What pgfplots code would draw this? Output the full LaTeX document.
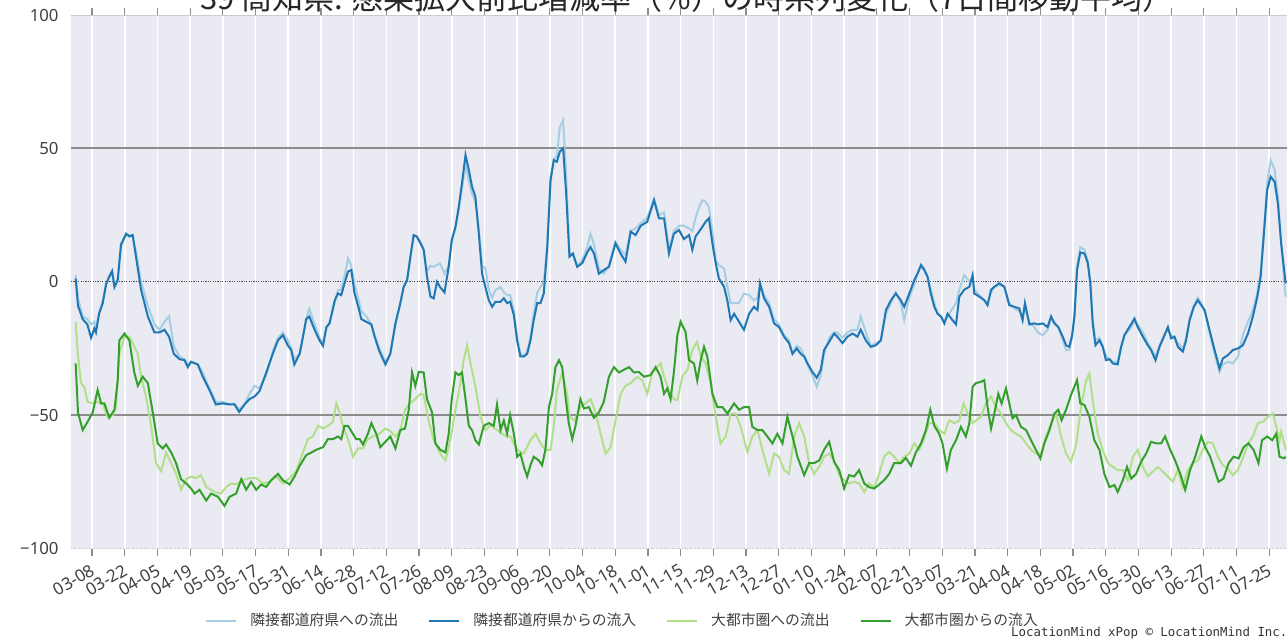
\documentclass[border=0pt]{standalone}
\usepackage{fontspec}
\setmainfont{Noto Sans CJK JP}
\newfontfamily\monofont{DejaVu Sans Mono}
\newfontfamily\tickfont{Noto Sans}
\usepackage{pgfplots}
\pgfplotsset{compat=1.18}
\definecolor{lb}{HTML}{A6CEE3}
\definecolor{db}{HTML}{1F78B4}
\definecolor{lg}{HTML}{B2DF8A}
\definecolor{dg}{HTML}{33A02C}
\definecolor{bgc}{HTML}{EAEAF2}
\begin{document}
\begin{tikzpicture}
\begin{axis}[
  at={(0,0)}, anchor=south west,
  scale only axis, width=608pt, height=266.75pt,
  xmin=-2, xmax=518.6, ymin=-100, ymax=100,
  axis background/.style={fill=bgc},
  axis line style={draw=none},
  xtick={7,21,...,511},
  xticklabels={03-08,03-22,04-05,04-19,05-03,05-17,05-31,06-14,06-28,07-12,07-26,08-09,08-23,09-06,09-20,10-04,10-18,11-01,11-15,11-29,12-13,12-27,01-10,01-24,02-07,02-21,03-07,03-21,04-04,04-18,05-02,05-16,05-30,06-13,06-27,07-11,07-25},
  ytick={-100,-50,0,50,100},
  yticklabels={−100,−50,0,50,100},
  tick align=outside,
  major tick length=3.5pt,
  xtick style={color=black!45, line width=0.6pt},
  ytick style={draw=none},
  xmajorgrids, major grid style={white, line width=0.8pt},
  tick label style={font=\tickfont\fontsize{8.4}{10}\selectfont, text=black!75},
  xticklabel shift=3.75pt,
  xticklabel style={font=\tickfont\fontsize{8.5}{10}\selectfont, xshift=-1pt, rotate=30, anchor=north east, inner sep=0pt},
  yticklabel style={inner sep=0pt, xshift=-2.5pt},
  legend columns=4,
  legend style={draw=none, fill=none, at={(0.1102,-0.1359)}, anchor=west, inner sep=0pt,
    font=\fontsize{7.4}{9}\selectfont, text=black!75,
    /tikz/every odd column/.append style={column sep=6.5pt},
    /tikz/every even column/.append style={column sep=15pt},
    nodes={inner sep=0pt}},
  legend image code/.code={\draw[#1] (0pt,0pt) -- (15pt,0pt);},
  every axis plot/.append style={line width=1pt, mark=none},
]
\draw[color=black!20, line width=0.8pt] (axis cs:-2,100) -- (axis cs:518.6,100);
\draw[color=black!25, line width=0.6pt, dash pattern=on 0.5pt off 0.8pt] (axis cs:-2,-100) -- (axis cs:518.6,-100);
\draw[color=black!45, line width=0.9pt] (axis cs:-2,50) -- (axis cs:518.6,50);
\draw[color=black!45, line width=0.9pt] (axis cs:-2,-50) -- (axis cs:518.6,-50);
\draw[color=black!70, line width=0.5pt, dash pattern=on 0.6pt off 0.6pt] (axis cs:-2,0) -- (axis cs:518.6,0);

\addplot[lb] table {
0 2.5
1 -6
3 -13
5 -14
6.6 -16
8 -15
8.7 -17
10 -12
11.6 -7
13 -1
14.4 2
15.6 3
16.6 -1
18 1
19.4 13
21.6 18
23 17.5
24.4 17
25.9 11
28 0
30.9 -9
33.7 -16
35.9 -18
38 -15
40 -13
42 -24
44.4 -28
46.6 -29
48 -31
49.4 -30
52.3 -31
54.4 -34
57.3 -40
60 -45
63 -45
65.9 -46
68 -45.6
70 -48
72.3 -46
74.4 -42
76.6 -39
78.7 -40
81.6 -35
84.4 -26
86.6 -21
88.7 -19
90.9 -22
92.3 -25
93.6 -29
95.9 -27
97.3 -21
98.7 -14
100 -10
102.3 -16
104.4 -21
105.9 -23
107.3 -18
108.7 -15
110.9 -8
112.3 -3
113.7 -3
115.1 2
116.6 8.8
118 6
119.4 -1
120.9 -6
122.3 -11
124.4 -13
126.6 -16
128 -20
130 -25
132.6 -30
134.7 -27
136.9 -16
139 -8
140.4 -2
141.9 1
143.3 9
144.7 17
146 17
147.6 15
149 12
150.4 4
151.9 6
153.3 5.6
156 6.9
157.9 3
159.7 6
161 15
162.6 20
164 27
165.4 35
166.9 44
168.3 38
169.7 33
171.1 30
172.6 20
174 6
175.4 5
176.9 -3
178.3 -6
179.7 -3
181.9 -2
183.3 -4
184.7 -5
186 -5
187.6 -11
189 -21
190.4 -27
191.9 -28
193.3 -26
194.7 -21
196.1 -12
197.6 -4
199 -2
200.4 0
201.9 14
203.3 39
204.7 46
206 47
207.3 58
208.7 60.6
210 40
211.4 11
212.9 10
214.7 6
216.9 8
219 13
220.4 18
221.9 14
224 5
226.1 3
228.3 6
231.1 15
233.3 12
235.4 10
237.6 19
239.7 20
241.9 22
244.7 24
247.6 31
249.7 25
251.9 26
254 12
256.1 19
258.3 21
260.4 21
262.6 20
264 19
265.4 24
266.9 28
268.3 30.6
269.7 30
271.1 28
272.6 19
274 8
275.4 6.2
277.6 5
279 -2
280.4 -8
281.9 -8
284 -8
286.1 -4.4
288.3 -5
290.4 -7
291.9 -6
293 -1
294.7 -5
296.9 -8
299 -14
301.1 -16
303.3 -20
305.4 -22
306.9 -27
308.7 -24
310.4 -25
311.9 -28
313.3 -31
315.4 -35
317.3 -39.4
319 -35
320.4 -27
322.6 -21
324.7 -19
326.1 -19
328.3 -21
330.4 -19
332.6 -18
334.7 -18
336.1 -13
338.3 -19
340.4 -24
342.6 -23
344.7 -22
346.9 -12
349 -8
351.1 -4
353.3 -8
354.7 -14.4
356.9 -6
359 -1
360.4 3
361.9 6.5
363.3 5
364.7 2
366.1 -3
367.6 -8
369 -12
370.4 -13
371.9 -15
373.3 -13
375.4 -10
376.9 -8
378.3 -3
380.4 2.5
382.6 0
384 1
384.7 -3
386.9 -5
389 -7
390.4 -8
391.9 -4
393.3 -2
395.4 -1
397.6 -2
399.7 -8
401.9 -10
404 -11
405.4 -13
406.4 -10
408.3 -15
410.4 -17
411.9 -19
414 -20
416.1 -18
417.6 -14
419 -15
420.7 -17
422.6 -22
424 -25.6
425.4 -25.6
426.6 -21
427.6 -12
428.7 6
430.1 13
431.9 12
433.3 8
434.4 0
435.4 -14
436.6 -22
438.3 -21
439.7 -24
441.1 -28
442.6 -29
444 -30
446.1 -30
447.6 -24
449 -20
451.1 -18
453.3 -15
454.7 -16
456.9 -19
459 -23
460.4 -25
462.3 -28
464 -24
465.9 -20
467.6 -18
469 -20
470.4 -21
471.9 -23
474 -25
475.4 -21
476.9 -14
478.7 -9
480.4 -6
481.9 -8
483.3 -11
485.4 -19
487.6 -27
489.7 -33.8
491.1 -31
493.3 -30
495.4 -30.6
497.6 -28
499.7 -20
501.9 -15
504 -10.6
505.9 -4
507.3 3
508.7 19
510.1 37
511.6 45.6
513.3 42
514.7 32
516.1 14
518 -5.6
};
\addlegendentry{隣接都道府県への流出}

\addplot[db] table {
0 1.2
1 -9
3 -14
5 -16
6.6 -21
8 -17.5
8.7 -19
10 -12
11.6 -8
13 -1
14.4 2
15.6 4
16.6 -2
18 0.6
19.4 14
21.6 18
23 17
24.4 17.5
25.9 9
28 -3
30.9 -13
33.7 -19
35.9 -19
38 -18
40 -20.6
42 -27
44.4 -29
46.6 -29.4
48 -32
49.4 -30
52.3 -31
54.4 -35.6
57.3 -40.6
60 -46
63 -45.6
65.9 -46
68 -46
70 -48.8
72.3 -46
74.4 -44
76.6 -43
78.7 -41
81.6 -34
84.4 -27
86.6 -22
88.7 -20
90.9 -24
92.3 -25.6
93.6 -31
95.9 -27
97.3 -20.6
98.7 -14
100 -13
102.3 -18
104.4 -22
105.9 -24
107.3 -17
108.7 -15.6
110.9 -7
112.3 -4.4
113.7 -5
115.1 -0.6
116.6 3.8
118 4.4
119.4 -4.4
120.9 -9
122.3 -14
124.4 -15
126.6 -16
128 -20.6
130 -26
132.6 -31
134.7 -27
136.9 -15.6
139 -8
140.4 -2
141.9 0.6
143.3 9.4
144.7 17.5
146 17
147.6 14.4
149 12
150.4 2
151.9 -5.6
153.3 -6.2
154.7 0
156 -2
157.9 -4
159.7 5.6
161 15.6
162.6 20.6
164 28
165.4 37
166.9 47.5
168.3 42
169.7 35.6
171.1 32
172.6 18
174 3
175.4 -2
176.9 -7
178.3 -9.4
179.7 -7.5
181.9 -7.5
183.3 -6.2
184.7 -8
186 -7.5
187.6 -12.5
189 -22
190.4 -28
191.9 -28
193.3 -27
194.7 -22
196.1 -14.4
197.6 -8
199 -8
200.4 -4.4
201.9 13
203.3 38
204.7 45.6
206 45
207.3 48.8
208.7 50
210 33
211.4 9.4
212.9 10.6
214.7 5.6
216.9 7
219 11
220.4 13
221.9 10.6
224 3
226.1 4.4
228.3 5.6
231.1 14.4
233.3 10.6
235.4 7.5
237.6 18.8
239.7 17.5
241.9 21
244.7 22.5
247.6 30.6
249.7 23.8
251.9 23.8
254 10.6
256.1 18
258.3 19.4
260.4 16
262.6 17.5
264 12
265.4 17
266.9 18.8
268.3 20.6
269.7 22.5
271.1 23.8
272.6 14.4
274 7
275.4 1.2
277.6 -1.9
279 -7
280.4 -14.4
281.9 -12
284 -15
286.1 -18
288.3 -12
290.4 -9.4
291.9 -10.6
293 -0.6
294.7 -6.2
296.9 -9.4
299 -15.6
301.1 -17
303.3 -20.6
305.4 -23
306.9 -27
308.7 -25
310.4 -27
311.9 -28
313.3 -30.6
315.4 -33.8
317.3 -36
319 -33
320.4 -25.6
322.6 -22.5
324.7 -19.4
326.1 -20.6
328.3 -23
330.4 -20.6
332.6 -19.4
334.7 -20.6
336.1 -18
338.3 -22
340.4 -24.4
342.6 -23.8
344.7 -22
346.9 -10.6
349 -7
351.1 -4.4
353.3 -7
354.7 -9.4
356.9 -4.4
359 0.6
360.4 3
361.9 6.2
363.3 4.4
364.7 1.9
366.1 -4.4
367.6 -9.4
369 -12
370.4 -13
371.9 -15.6
373.3 -12
375.4 -14.4
376.9 -16
378.3 -5.6
380.4 -3
382.6 -1.9
384 2.5
384.7 -4.4
386.9 -5.6
389 -6.9
390.4 -8.8
391.9 -3
393.3 -1.9
395.4 -0.6
397.6 -1.9
399.7 -8.8
401.9 -9.4
404 -10
405.4 -14.4
406.4 -8
408.3 -16
410.4 -15.6
411.9 -16
414 -15.6
416.1 -17
417.6 -13
419 -15.6
420.7 -17
422.6 -20.6
424 -23.8
425.4 -24.4
426.6 -20
427.6 -13
428.7 4.4
430.1 11
431.9 10.6
433.3 7
434.4 -0.6
435.4 -15.6
436.6 -23.8
438.3 -21.9
439.7 -24.4
441.1 -29.4
442.6 -29
444 -30.6
446.1 -31
447.6 -24.4
449 -20
451.1 -17
453.3 -13.8
454.7 -17
456.9 -20.6
459 -23.8
460.4 -25.6
462.3 -29.4
464 -24.4
465.9 -20.6
467.6 -17
469 -21.2
470.4 -20.6
471.9 -24.4
474 -26.2
475.4 -21.9
476.9 -14.4
478.7 -9.4
480.4 -6.9
481.9 -8.8
483.3 -10.6
485.4 -18
487.6 -25.6
489.7 -32.5
491.1 -28.8
493.3 -27.5
495.4 -25.6
497.6 -25
499.7 -23.8
501.9 -19.4
504 -13
505.9 -5.6
507.3 1.9
508.7 18
510.1 34.4
511.6 39.4
513.3 37.5
514.7 29.4
516.1 14.4
518 -0.6
};
\addlegendentry{隣接都道府県からの流入}

\addplot[lg] table {
0 -15
0.9 -27
2.3 -38
3.7 -39.4
5.1 -45
7.3 -45.6
9.4 -45
11.6 -46
13.7 -50.6
15.9 -50
17.3 -47
18.7 -27
20.9 -20.6
23 -20.6
25.1 -24.4
26.6 -27
28 -35.6
30.1 -43
32.3 -54
34.4 -68
36.6 -71
38.7 -64
40.9 -68
43 -72
45.1 -78
47.3 -74
49.4 -73
51.6 -73.6
53.7 -72.5
55.9 -77
58 -78
60.1 -79
62.3 -79.4
64.4 -77
66.6 -75.6
68.7 -76
71.6 -74.4
74.4 -73.6
77.3 -73.6
80.1 -75.6
83 -75
85.9 -73
88.7 -75.6
91.6 -73.6
94.4 -71
97.3 -64
99.4 -59
101.6 -58
103.7 -54
105.9 -55
108 -54
110.1 -52.5
111.6 -45.6
113 -49
114.4 -54
116.6 -59
118.7 -65.6
120.9 -62.5
123 -62.5
125.1 -59
127.3 -58
130 -57
132.6 -55
134.7 -56
136.9 -58
139 -55.6
141 -48
143.1 -45.6
145.4 -44
147.6 -42
149 -42.5
151.1 -52
153.3 -59.4
156.1 -64.4
158.3 -67
160.4 -59.4
162.6 -48
164.7 -38
166.1 -29.4
167.6 -23.8
169 -30.6
171.1 -39
173.3 -50.6
175.4 -55.6
177.6 -53.8
180.4 -55.6
183.3 -57.5
186.1 -58
189 -63
191.9 -64.4
194.7 -59.4
196.9 -57
199 -60.6
201.1 -63
203.3 -63
204.7 -54
206 -40.6
208.3 -34
210.4 -42
211.4 -50.6
213.6 -52
216.1 -47
218.3 -45.6
220.4 -44
222.6 -49
224.7 -57
226.9 -64.4
229 -62
231.1 -52
233.3 -42
235.4 -39
237.6 -38
240.4 -35.6
242.6 -37
244.7 -42
246.9 -34
249 -32
250.4 -30.6
251.9 -35.6
254 -40.6
256.1 -44
257.6 -44.4
259.7 -35.6
261.9 -33
264 -25.6
266 -22.5
267.6 -28
269.7 -30.6
271.9 -38
274 -50.6
276.1 -60.6
278.3 -58
280.4 -49.4
282.6 -49.4
284.7 -54.4
287.6 -63.8
289.7 -58
291.9 -55.6
294 -63
296.9 -72
299 -64.4
301.1 -65.6
303.3 -70.6
305.4 -72
307.6 -58
309.7 -53
311.9 -58
314 -68
316.1 -72
318.3 -69.4
320.4 -65.6
322.6 -64.4
324.7 -67
326.9 -72.5
329 -74.4
331.1 -75.6
333.3 -75
335.4 -75.6
337.6 -78.8
339.7 -75.6
341.9 -77
344 -72
346.1 -65.6
348.3 -63.8
350.4 -65.6
352.6 -68
354.6 -65.6
356.9 -64.4
359 -60.6
361.1 -63
363 -59.4
365.4 -53
367.6 -53
369.7 -55.6
371.9 -57
374 -52
376.1 -53
378.3 -52
380.1 -45.6
381.9 -49.4
384 -53
385.4 -52
387.6 -50.6
389.7 -45.6
391.9 -43
394 -47
396.1 -49.4
398.3 -53
400.4 -55.6
402.6 -57
404.7 -58
406.9 -60.6
409 -63
411.1 -64.4
413.3 -64.4
415.4 -58
417.6 -53
419.7 -49.4
421.9 -58
424 -64.4
426.1 -67.5
428.3 -61
430.4 -47
432.6 -37
434 -34.4
435.4 -44.4
437.6 -57
439.7 -63
441.9 -68
444 -69.4
446.1 -70.6
448.3 -70.6
450.4 -74.4
452.6 -65.6
454.7 -63
456.9 -69.4
459 -73
461.1 -71.2
463.3 -69.4
465.4 -71.2
467.6 -73
469.7 -75
471.9 -70.6
474 -77
476.1 -70.6
478.3 -68
480.4 -67
482.6 -63
484.7 -60
486.9 -60.6
489 -65.6
491.1 -68.8
493.3 -70
495.4 -72.5
497.6 -70.6
499.7 -66.2
501.9 -60.6
504 -58
506.1 -53
508.3 -52.5
510.4 -50.6
512.6 -49.4
514 -54.4
515.4 -59.4
516.1 -56.2
518 -63
};
\addlegendentry{大都市圏への流出}

\addplot[dg] table {
0 -30.6
1 -49
3 -55.6
5.1 -52.5
7.3 -49
9.4 -40.6
10.9 -45.6
12.3 -45.6
14.4 -51
16.6 -48
18 -37
18.7 -22
20.9 -19.4
23 -22
25.1 -34
26.6 -39
28.7 -35.6
30.9 -38
33 -49
35.1 -60.6
37.3 -62.5
38.7 -61
40.9 -64
43 -68
45.1 -74
47.3 -75.6
49.4 -77.5
50.9 -79.4
53 -78
55.9 -82
58 -79.4
60.9 -80.6
63.7 -84
65.9 -80.6
68.7 -79.4
70.9 -74
73 -78
75.1 -75
77.3 -78
79.4 -76
81.6 -76.9
83.7 -74.4
86.6 -72
88.7 -74.4
91.6 -76
93.7 -73
95.9 -69
98.7 -65
100.9 -64
103 -63
105.9 -62
108 -59
110.1 -59
112.3 -58
113.7 -59
115.1 -54
116.6 -54
118.7 -57
120.1 -59
121.6 -59
123 -61
125.1 -57
126.6 -53
128.7 -57
130.4 -62
132.6 -60
134.7 -58
136.9 -62.5
139 -55.6
141 -55
142.6 -48
144 -34
145.4 -39
146.9 -33.8
149 -34
150.4 -44
152.6 -49
154 -60.6
156.1 -63
158.3 -64
159.7 -57
161 -44
162.6 -34
164 -35
165.4 -34
166.9 -44
168.3 -54
169.7 -55.6
171.1 -59.4
172.6 -61
174.7 -54
176.9 -53
179 -54
180.4 -46
181.9 -55.6
183.3 -52
184.7 -57
186 -50
187.6 -57
189 -65.6
190.4 -64.4
191.9 -69.4
193.3 -73
194.7 -68.8
196.1 -65.6
198.3 -67
199.7 -68.8
201.1 -63
202.6 -47
204 -42
205.4 -32
206.9 -29.4
208.3 -32
209.7 -43
211.1 -53
212.6 -59
214 -54
216.1 -44
217.6 -47.5
219.7 -47
221.9 -51
224 -49
226.1 -45
228.3 -35.6
230.4 -32
232.6 -34
234.7 -33
236.9 -32
239 -34
241.1 -33.8
243.3 -35.6
246.1 -35
248.3 -32
250.4 -35.6
251.9 -42
253.3 -40
254.7 -44
256.1 -34
257.6 -20
259 -15
261.1 -18.8
262.6 -29.4
264.7 -30.6
266.1 -37
267.6 -29.4
269 -24.4
270.4 -28
272.6 -42
274.7 -47
276.9 -47
279 -49.4
281.9 -45.6
284 -48
286.1 -47
288.3 -47
289.7 -54.4
291.9 -55.6
294 -55.6
296.1 -58
298.3 -60.6
300.4 -57
302.6 -60.6
304.7 -50.6
306.9 -58
309 -65.6
311.9 -72.5
314 -68
316.1 -68
318.3 -67
320.4 -63
322.6 -60
324.7 -67.5
326.9 -70.6
329 -77.5
331.1 -72.5
333.3 -73
335.4 -70.6
337.6 -75.6
339.7 -77
341.9 -77.5
344 -76
346.1 -74.4
348.3 -72
350.4 -68
353.3 -68
355.4 -66
357.6 -69
359.7 -64
361.9 -60.6
364 -55.6
365.9 -48
367.6 -54
369.7 -57
371.1 -60.6
373 -70
374.7 -63
376.9 -59.4
379 -54.4
381.1 -58
382.6 -53
384 -39.4
385.4 -38
387.6 -37.5
389 -36.9
390.4 -47
391.9 -55
393.3 -49.4
395 -42
396.4 -45.6
398.3 -40
399.7 -45.6
401.1 -51.2
402.6 -50
404.7 -54.4
406.9 -55.6
409 -59.4
411.1 -63
413 -66.2
414.7 -60.6
416.9 -55.6
419 -49.4
420.7 -48
422.1 -51.9
424 -48
426.1 -42.5
428.7 -36.9
430.1 -45.6
431.9 -46.2
434 -50.6
436.1 -59.4
438.3 -63
440.4 -72
442.6 -77
444.7 -76.2
446.1 -78.8
448.3 -74.4
450.1 -69.4
451.9 -73.8
454 -72
456.1 -67.5
458.3 -64.4
460.4 -60
462.6 -60.6
464.7 -60.6
466.4 -58
468.6 -63
470.7 -67
472.9 -72
475 -78
477.1 -70.6
479.3 -65.6
481.9 -58
483.6 -62
485.7 -65.6
487.6 -70.6
489.3 -75
491.4 -73.8
493.6 -68
495.7 -65.6
497.9 -66.2
500 -62
502.1 -60.6
504.3 -63
506.4 -68
507.9 -59.4
510.1 -58
512.3 -59.4
514 -56.9
515.4 -65.6
517.3 -66.2
518 -65.6
};
\addlegendentry{大都市圏からの流入}
\end{axis}
\node[anchor=base west, inner sep=0pt, font=\fontsize{15.5}{18}\selectfont, text=black!85] at (64.5pt,269.25pt) {39 高知県: 感染拡大前比増減率（\%）の時系列変化（7日間移動平均）};
\node[anchor=base east, font=\monofont\fontsize{6.2}{7}\selectfont, text=black!80, inner sep=0pt] at (608.4pt,-43.75pt) {LocationMind xPop © LocationMind Inc.};
\pgfresetboundingbox
\useasboundingbox (-35.5pt,-45.25pt) rectangle (608.5pt,274.25pt);
\end{tikzpicture}
\end{document}
